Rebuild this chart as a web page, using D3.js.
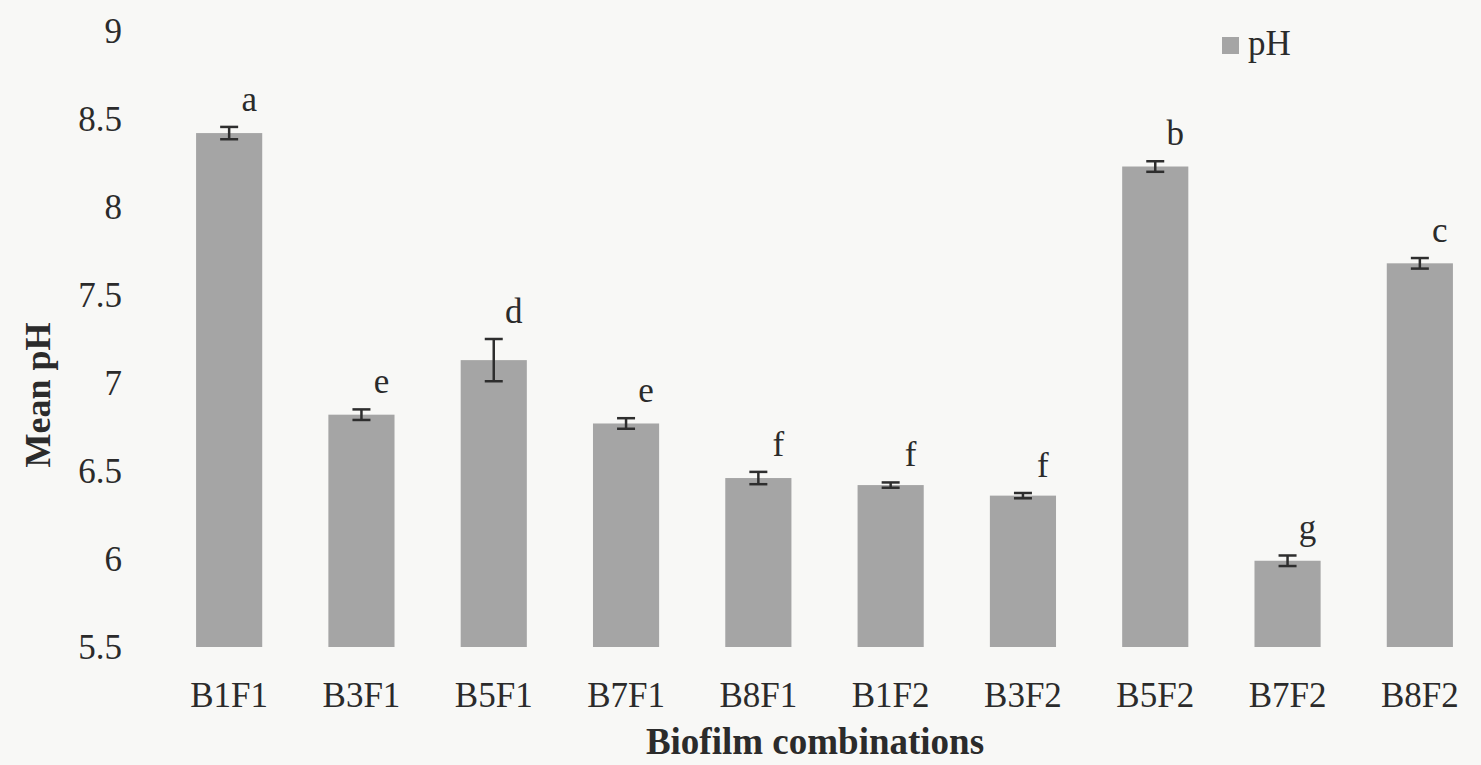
<!DOCTYPE html>
<html>
<head>
<meta charset="utf-8">
<script src="https://cdn.jsdelivr.net/npm/d3@7"></script>
<style>
  body { margin: 0; background: #f8f8f6; }
  svg { display: block; }
  text { font-family: "Liberation Serif", "Times New Roman", serif; fill: #2b2b2b; }
</style>
</head>
<body>
<div id="chart"></div>
<script>
const categories = ['B1F1', 'B3F1', 'B5F1', 'B7F1', 'B8F1', 'B1F2', 'B3F2', 'B5F2', 'B7F2', 'B8F2'];
const meanPH = [8.42, 6.82, 7.13, 6.77, 6.46, 6.42, 6.36, 8.23, 5.99, 7.68];
const errPH = [0.035, 0.03, 0.12, 0.03, 0.035, 0.015, 0.015, 0.03, 0.03, 0.03];
const letters = ['a', 'e', 'd', 'e', 'f', 'f', 'f', 'b', 'g', 'c'];
const yTicks = [5.5, 6, 6.5, 7, 7.5, 8, 8.5, 9];

function drawChart() {
    const width = 1481;
    const height = 765;

    const data = categories.map((c, i) => ({ name: c, value: meanPH[i], err: errPH[i], letter: letters[i] }));

    const svg = d3.select('#chart').append('svg')
        .attr('width', width)
        .attr('height', height);

    const x = d3.scaleBand()
        .domain(categories)
        .range([163, 1486])
        .paddingInner(0.5)
        .paddingOuter(0.25);

    const y = d3.scaleLinear()
        .domain([5.5, 9])
        .range([647, 31]);

    // y axis, labels only
    const yAxis = svg.append('g')
        .attr('transform', 'translate(122,0)')
        .call(d3.axisLeft(y).tickValues(yTicks).tickSize(0).tickPadding(0).tickFormat(d3.format('')));
    yAxis.attr('font-family', null).attr('font-size', null);
    yAxis.select('.domain').remove();
    yAxis.selectAll('text')
        .style('font-size', '35px')
        .attr('fill', '#2b2b2b');

    // x axis, labels only
    const xAxis = svg.append('g')
        .attr('transform', 'translate(0,682)')
        .call(d3.axisBottom(x).tickSize(0).tickPadding(0));
    xAxis.attr('font-family', null).attr('font-size', null);
    xAxis.select('.domain').remove();
    xAxis.selectAll('text')
        .style('font-size', '35px')
        .attr('fill', '#2b2b2b');

    // bars
    svg.selectAll('.bar')
        .data(data)
        .enter().append('rect')
        .attr('class', 'bar')
        .attr('x', d => x(d.name))
        .attr('width', x.bandwidth())
        .attr('y', d => y(d.value))
        .attr('height', d => y(5.5) - y(d.value))
        .attr('fill', '#a5a5a5');

    // error bars
    const cap = 9;
    const eb = svg.selectAll('.err')
        .data(data)
        .enter().append('g')
        .attr('class', 'err')
        .attr('stroke', '#2e2e2e')
        .attr('stroke-width', 2.5);
    eb.append('line')
        .attr('x1', d => x(d.name) + x.bandwidth() / 2)
        .attr('x2', d => x(d.name) + x.bandwidth() / 2)
        .attr('y1', d => y(d.value + d.err))
        .attr('y2', d => y(d.value - d.err));
    eb.append('line')
        .attr('x1', d => x(d.name) + x.bandwidth() / 2 - cap)
        .attr('x2', d => x(d.name) + x.bandwidth() / 2 + cap)
        .attr('y1', d => y(d.value + d.err))
        .attr('y2', d => y(d.value + d.err));
    eb.append('line')
        .attr('x1', d => x(d.name) + x.bandwidth() / 2 - cap)
        .attr('x2', d => x(d.name) + x.bandwidth() / 2 + cap)
        .attr('y1', d => y(d.value - d.err))
        .attr('y2', d => y(d.value - d.err));

    // significance letters
    svg.selectAll('.letter')
        .data(data)
        .enter().append('text')
        .attr('class', 'letter')
        .attr('x', d => x(d.name) + x.bandwidth() / 2 + 20)
        .attr('y', d => y(d.value + d.err) - 16)
        .attr('text-anchor', 'middle')
        .style('font-size', '35px')
        .text(d => d.letter);

    // axis titles
    svg.append('text')
        .attr('transform', 'translate(50,395) rotate(-90)')
        .attr('text-anchor', 'middle')
        .style('font-size', '36px')
        .style('font-weight', 'bold')
        .text('Mean pH');

    svg.append('text')
        .attr('x', 815)
        .attr('y', 754)
        .attr('text-anchor', 'middle')
        .style('font-size', '37px')
        .style('font-weight', 'bold')
        .text('Biofilm combinations');

    // legend
    const legend = svg.append('g').attr('transform', 'translate(1222,37)');
    legend.append('rect')
        .attr('width', 17)
        .attr('height', 17)
        .attr('fill', '#a5a5a5');
    legend.append('text')
        .attr('x', 26)
        .attr('y', 18)
        .style('font-size', '35px')
        .text('pH');
}

drawChart();
</script>
</body>
</html>
